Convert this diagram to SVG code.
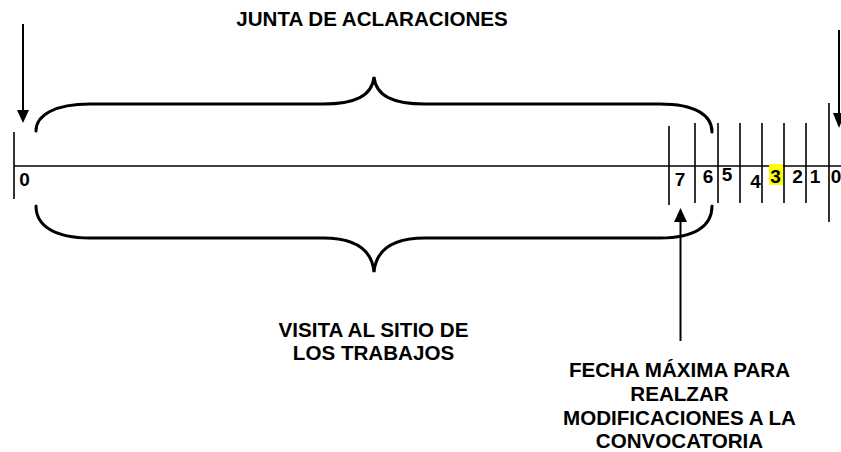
<svg xmlns="http://www.w3.org/2000/svg" width="841" height="452" viewBox="0 0 841 452">
<defs>
<style>
.ln{stroke:#000;stroke-width:1.6;fill:none}
.tk{stroke:#000;stroke-width:1.6;fill:none}
.br{stroke:#000;stroke-width:3;fill:none;stroke-linecap:round}
.ar{stroke:#000;stroke-width:2;fill:none}
.ah{fill:#000;stroke:none}
.t{font-family:"Liberation Sans",Arial,sans-serif;font-weight:bold;font-size:20.6px;fill:#000;text-anchor:middle}
.d{font-family:"Liberation Sans",Arial,sans-serif;font-weight:bold;font-size:19px;fill:#000;text-anchor:middle}
</style>
</defs>
<rect width="841" height="452" fill="#fff"/>
<g id="timeline">
<line class="ln" x1="14" y1="166" x2="841" y2="166"/>
<line class="tk" x1="14" y1="132" x2="14" y2="199"/>
<line class="tk" x1="669" y1="126" x2="669" y2="205"/>
<line class="tk" x1="695" y1="123" x2="695" y2="203"/>
<line class="tk" x1="718" y1="123" x2="718" y2="203"/>
<line class="tk" x1="740" y1="123" x2="740" y2="203"/>
<line class="tk" x1="762" y1="123" x2="762" y2="203"/>
<line class="tk" x1="784" y1="123" x2="784" y2="203"/>
<line class="tk" x1="806" y1="123" x2="806" y2="203"/>
<line class="tk" x1="829" y1="103" x2="829" y2="222"/>
<rect x="769" y="164" width="14" height="21" fill="#ffff00"/>
<text class="d" x="24.5" y="186">0</text>
<text class="d" x="680" y="186">7</text>
<text class="d" x="708" y="183">6</text>
<text class="d" x="727" y="181">5</text>
<text class="d" x="755.5" y="188">4</text>
<text class="d" x="775.5" y="183">3</text>
<text class="d" x="797.5" y="183">2</text>
<text class="d" x="815" y="183">1</text>
<text class="d" x="836" y="183">0</text>
</g>
<g id="brace-top">
<path class="br" d="M36,131 C36,115 55,104 90,104 L323,104 C355,104 372,96 374,77 C376,96 393,104 425,104 L660,104 C695,104 712,115 712,132"/>
</g>
<g id="brace-bottom">
<path class="br" d="M36,206 C36,226 55,238 90,238 L323,238 C355,238 372,250 374,272 C376,250 393,238 425,238 L660,238 C695,238 712,226 712,206"/>
</g>
<g id="label-junta">
<text class="t" x="372" y="26">JUNTA DE ACLARACIONES</text>
</g>
<g id="label-visita">
<text class="t" x="373.5" y="337">VISITA AL SITIO DE</text>
<text class="t" x="373.5" y="360">LOS TRABAJOS</text>
</g>
<g id="label-fecha">
<text class="t" x="679.5" y="377">FECHA MÁXIMA PARA</text>
<text class="t" x="679.5" y="401">REALZAR</text>
<text class="t" x="679.5" y="425">MODIFICACIONES A LA</text>
<text class="t" x="679.5" y="448">CONVOCATORIA</text>
</g>
<g id="connectors">
<line class="ar" x1="23" y1="24" x2="23" y2="112"/>
<polygon class="ah" points="17,110 29,110 23,123"/>
<line class="ar" x1="839" y1="30" x2="839" y2="116"/>
<polygon class="ah" points="833,113 845,113 839,128"/>
<line class="ar" x1="680.5" y1="341" x2="680.5" y2="220"/>
<polygon class="ah" points="674,222 687,222 680.5,208"/>
</g>
</svg>
